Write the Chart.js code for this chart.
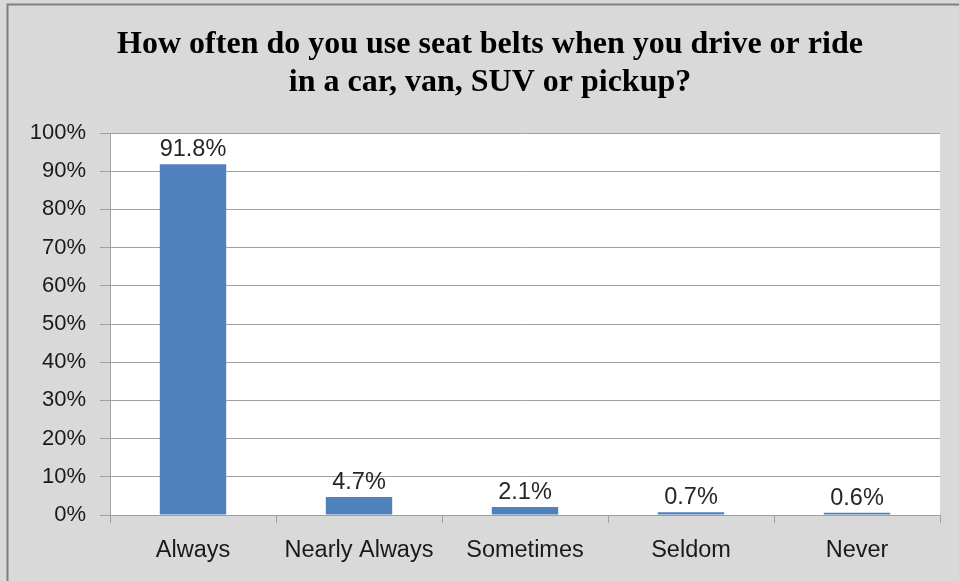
<!DOCTYPE html>
<html lang="en">
<head>
  <meta charset="UTF-8">
  <title>Seat belts</title>
  <script src="https://cdn.jsdelivr.net/npm/chart.js"></script>
  <style>
    body { margin: 0; background: #d9d9d9; }
    #grafico { display: block; }
  </style>
</head>
<body>
  <canvas id="grafico" width="959" height="581"></canvas>

<script>
  // dados
  const categorias = ['Always', 'Nearly Always', 'Sometimes', 'Seldom', 'Never'];
  const percentuais = [91.8, 4.7, 2.1, 0.7, 0.6];
  const rotulos = ['91.8%', '4.7%', '2.1%', '0.7%', '0.6%'];
  const ticksY = [0, 10, 20, 30, 40, 50, 60, 70, 80, 90, 100];
  const titulo = ['How often do you use seat belts when you drive or ride', 'in a car, van, SUV or pickup?'];

  const corGrade = '#a0a0a0';

  // fundo cinza, borda, titulo e area branca
  const fundo = {
    id: 'fundo',
    beforeDraw(chart) {
      const ctx = chart.ctx;
      const a = chart.chartArea;
      ctx.save();
      ctx.fillStyle = '#d9d9d9';
      ctx.fillRect(0, 0, chart.width, chart.height);
      ctx.strokeStyle = '#808080';
      ctx.lineWidth = 2;
      ctx.beginPath();
      ctx.moveTo(7.5, chart.height + 5);
      ctx.lineTo(7.5, 4.5);
      ctx.lineTo(chart.width + 5, 4.5);
      ctx.stroke();
      ctx.fillStyle = '#ffffff';
      ctx.fillRect(a.left, a.top, a.right - a.left, a.bottom - a.top);

      // titulo (centrado no grafico inteiro, que passa da borda direita)
      ctx.fillStyle = '#000000';
      ctx.font = 'bold 32px "Liberation Serif"';
      ctx.textAlign = 'center';
      ctx.textBaseline = 'alphabetic';
      ctx.fillText(titulo[0], 490, 53);
      ctx.fillText(titulo[1], 490, 91);
      ctx.restore();
    }
  };

  // rotulos em cima das barras
  const rotulosBarras = {
    id: 'rotulosBarras',
    afterDatasetsDraw(chart) {
      const ctx = chart.ctx;
      const meta = chart.getDatasetMeta(0);
      ctx.save();
      ctx.font = '23.5px "Liberation Sans"';
      ctx.fillStyle = '#262626';
      ctx.textAlign = 'center';
      ctx.textBaseline = 'alphabetic';
      meta.data.forEach((barra, i) => {
        ctx.fillText(rotulos[i], barra.x, barra.y - 8);
      });
      ctx.restore();
    }
  };

  new Chart(document.getElementById('grafico'), {
    type: 'bar',
    data: {
      labels: categorias,
      datasets: [{
        data: percentuais,
        backgroundColor: '#4f81bd',
        borderWidth: 0,
        barPercentage: 0.4,
        categoryPercentage: 1
      }]
    },
    options: {
      responsive: false,
      animation: false,
      layout: { padding: { left: 10, right: 19, top: 133, bottom: 0 } },
      plugins: {
        legend: { display: false },
        tooltip: { enabled: false },
        title: { display: false }
      },
      scales: {
        x: {
          afterFit(scale) { scale.height = 66; },
          grid: {
            offset: true,
            drawOnChartArea: false,
            drawTicks: true,
            tickLength: 8,
            color: corGrade
          },
          border: { display: true, color: corGrade, width: 1 },
          ticks: {
            color: '#1a1a1a',
            padding: 13,
            maxRotation: 0,
            font: { family: '"Liberation Sans"', size: 23.5 }
          }
        },
        y: {
          min: 0,
          max: 100,
          afterFit(scale) { scale.width = 100; },
          afterBuildTicks(scale) { scale.ticks = ticksY.map(v => ({ value: v })); },
          grid: {
            color: corGrade,
            lineWidth: 1,
            tickLength: 10
          },
          border: { display: true, color: corGrade, width: 1 },
          ticks: {
            color: '#1a1a1a',
            padding: 14,
            font: { family: '"Liberation Sans"', size: 22 },
            callback: v => v + '%'
          }
        }
      }
    },
    plugins: [fundo, rotulosBarras]
  });
</script>
</body>
</html>
